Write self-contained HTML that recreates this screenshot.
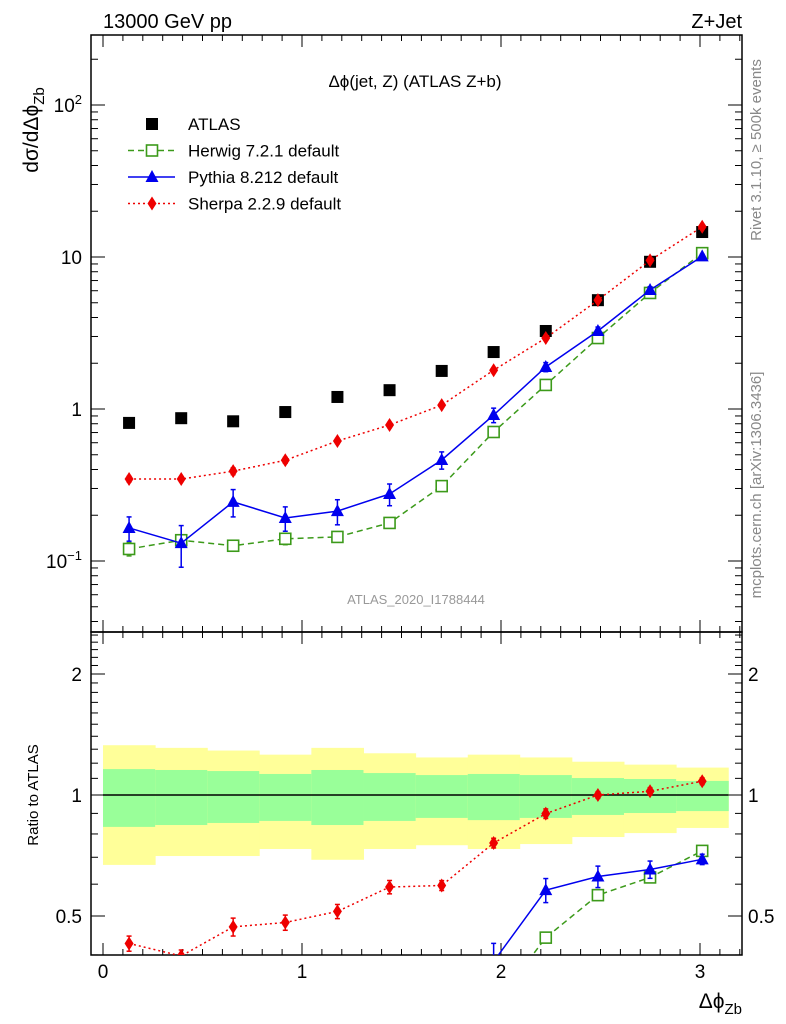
<!DOCTYPE html>
<html><head><meta charset="utf-8">
<style>
html,body{margin:0;background:#fff;overflow:hidden;width:786px;height:1024px;}
svg{display:block;font-family:"Liberation Sans",sans-serif;}
</style></head>
<body>
<svg id="chart" width="786" height="1024" viewBox="0 0 786 1024">
<defs>
<clipPath id="cm"><rect x="91" y="35" width="651" height="597"/></clipPath>
<clipPath id="cr"><rect x="91" y="632" width="651" height="323"/></clipPath>
</defs>
<g id="bands" clip-path="url(#cr)"></g>
<g id="grid"></g>
<text x="103" y="28" font-size="20">13000 GeV pp</text>
<text x="742" y="28" font-size="20" text-anchor="end">Z+Jet</text>
<text x="415" y="87" font-size="17" text-anchor="middle">Δϕ(jet, Z) (ATLAS Z+b)</text>
<text x="416" y="604" font-size="13" fill="#999" text-anchor="middle">ATLAS_2020_I1788444</text>
<text transform="translate(38,130) rotate(-90)" font-size="21" text-anchor="middle">dσ/dΔϕ<tspan font-size="15" dy="6">Zb</tspan></text>
<text transform="translate(38,795) rotate(-90)" font-size="15" text-anchor="middle">Ratio to ATLAS</text>
<text x="742" y="1008" font-size="21" text-anchor="end">Δϕ<tspan font-size="15" dy="6">Zb</tspan></text>
<text transform="translate(757,150) rotate(-90)" font-size="15" fill="#888" text-anchor="middle" dominant-baseline="middle">Rivet 3.1.10, ≥ 500k events</text>
<text transform="translate(757,485) rotate(-90)" font-size="15" fill="#888" text-anchor="middle" dominant-baseline="middle">mcplots.cern.ch [arXiv:1306.3436]</text>
<g id="series"></g>
<g id="legend"></g>
</svg>
<script>
const xCenters=[0.131,0.393,0.654,0.916,1.178,1.440,1.702,1.963,2.225,2.487,2.749,3.011];
const binLo=[0,0.262,0.524,0.785,1.047,1.309,1.571,1.833,2.094,2.356,2.618,2.880];
const binHi=[0.262,0.524,0.785,1.047,1.309,1.571,1.833,2.094,2.356,2.618,2.880,3.142];
const atlas=[0.81,0.87,0.83,0.955,1.2,1.33,1.78,2.37,3.26,5.2,9.3,14.6];
const herwig=[0.12,0.137,0.126,0.14,0.144,0.178,0.311,0.706,1.44,2.93,5.8,10.6];
const herwigErr=[0.012,0.01,0.01,0.012,0.01,0.01,0.012,0.02,0.04,0.06,0.1,0.15];
const pythia=[0.165,0.131,0.245,0.192,0.213,0.276,0.462,0.913,1.89,3.26,6.07,10.1];
const pythiaErr=[0.03,0.04,0.05,0.035,0.04,0.045,0.06,0.1,0.13,0.2,0.3,0.3];
const sherpa=[0.346,0.346,0.39,0.46,0.616,0.785,1.06,1.8,2.93,5.2,9.5,15.8];
const sherpaErr=[0.015,0.012,0.02,0.02,0.025,0.03,0.03,0.05,0.08,0.1,0.2,0.3];
const yellowUp=[1.33,1.31,1.29,1.26,1.31,1.27,1.24,1.26,1.24,1.21,1.19,1.17];
const yellowLo=[0.67,0.705,0.705,0.734,0.69,0.734,0.75,0.734,0.755,0.786,0.804,0.828];
const greenUp=[1.16,1.154,1.147,1.128,1.154,1.134,1.121,1.128,1.121,1.102,1.096,1.084];
const greenLo=[0.833,0.842,0.852,0.862,0.842,0.862,0.877,0.866,0.877,0.892,0.902,0.912];
const xTicks=[0,1,2,3];
const mainTicks=[[100,"10<tspan font-size='13' dy='-8'>2</tspan>"],[10,"10"],[1,"1"],[0.1,"10<tspan font-size='13' dy='-8'>−1</tspan>"]];
const ratioTicks=[2,1,0.5];

const NS="http://www.w3.org/2000/svg";
const L=91,R=742,T=35,MB=632,RB=955;
const X=v=>103+v*199;
const Ym=v=>409-152*Math.log10(v);
const Yr=v=>795-121*Math.log2(v);
function mk(tag,attrs,parent){const e=document.createElementNS(NS,tag);for(const k in attrs)e.setAttribute(k,attrs[k]);parent.appendChild(e);return e;}
const bands=document.getElementById('bands'),grid=document.getElementById('grid'),ser=document.getElementById('series'),leg=document.getElementById('legend');

for(let i=0;i<xCenters.length;i++){
  let r=mk('rect',{x:X(binLo[i]),y:Yr(yellowUp[i]),width:X(binHi[i])-X(binLo[i])+0.5,height:Yr(yellowLo[i])-Yr(yellowUp[i]),fill:'#ffff99'},bands);
  
  
  let g=mk('rect',{x:X(binLo[i]),y:Yr(greenUp[i]),width:X(binHi[i])-X(binLo[i])+0.5,height:Yr(greenLo[i])-Yr(greenUp[i]),fill:'#99ff99'},bands);
  
  
}
let one=mk('line',{x1:X(0),x2:X(3.142),y1:Yr(1),y2:Yr(1),stroke:'#000','stroke-width':1.5},bands);



for(const [t,b,n] of [[T,MB,'main-frame'],[MB,RB,'ratio-frame']]){
  let f=mk('rect',{x:L,y:t,width:R-L,height:b-t,fill:'none',stroke:'#000','stroke-width':1.5},grid);
  
  
}
for(let k=0;k<=32;k++){const v=k/10;const x=X(v);if(x>R)continue;const maj=k%10==0;const len=maj?12:6;
  for(const [t,b] of [[T,MB],[MB,RB]]){
    mk('line',{x1:x,x2:x,y1:b,y2:b-len,stroke:'#000'},grid);
    mk('line',{x1:x,x2:x,y1:t,y2:t+len,stroke:'#000'},grid);
  }}
xTicks.forEach(v=>{const t=mk('text',{x:X(v),y:978,'font-size':19,'text-anchor':'middle'},grid);t.textContent=v;
  
  });
for(let d=-2;d<=2;d++)for(let m=1;m<=9;m++){const v=m*Math.pow(10,d);const y=Ym(v);if(y<T||y>MB)continue;const len=m==1?14:7;
  mk('line',{x1:L,x2:L+len,y1:y,y2:y,stroke:'#000'},grid);mk('line',{x1:R,x2:R-len,y1:y,y2:y,stroke:'#000'},grid);}
mainTicks.forEach(([v,s])=>{const t=mk('text',{x:82,y:Ym(v)+7,'font-size':19,'text-anchor':'end'},grid);t.innerHTML=s;
  
  });
const rminor=[0.4,0.5,0.6,0.7,0.8,0.9,1,1.1,1.2,1.3,1.4,1.5,1.6,1.7,1.8,1.9,2,2.1,2.2,2.3,2.4,2.5];
rminor.forEach(v=>{const y=Yr(v);if(y<MB||y>RB)return;const maj=ratioTicks.includes(v);const len=maj?14:7;
  mk('line',{x1:L,x2:L+len,y1:y,y2:y,stroke:'#000'},grid);mk('line',{x1:R,x2:R-len,y1:y,y2:y,stroke:'#000'},grid);});
ratioTicks.forEach(v=>{for(const [x,a] of [[82,'end'],[748,'start']]){const t=mk('text',{x:x,y:Yr(v)+7,'font-size':19,'text-anchor':a},grid);t.textContent=v;
  
  }});

function marker(kind,x,y,parent,name){
  let e;
  if(kind=='sq')e=mk('rect',{x:x-6,y:y-6,width:12,height:12,fill:'#000'},parent);
  if(kind=='osq')e=mk('rect',{x:x-5.5,y:y-5.5,width:11,height:11,fill:'#fff',stroke:'#3c9a1a','stroke-width':1.6},parent);
  if(kind=='tri')e=mk('polygon',{points:`${x},${y-7} ${x-6.5},${y+5} ${x+6.5},${y+5}`,fill:'#0000ee'},parent);
  if(kind=='dia')e=mk('polygon',{points:`${x},${y-7} ${x-4.5},${y} ${x},${y+7} ${x+4.5},${y}`,fill:'#ee0000'},parent);
  
  
  return e;
}
const mc=[
 {vals:herwig,err:herwigErr,kind:'osq',col:'#3c9a1a',dash:'6,4',name:'herwig'},
 {vals:pythia,err:pythiaErr,kind:'tri',col:'#0000ee',dash:'',name:'pythia'},
 {vals:sherpa,err:sherpaErr,kind:'dia',col:'#ee0000',dash:'2,3',name:'sherpa'}];
const gm=mk('g',{'clip-path':'url(#cm)'},ser), gr=mk('g',{'clip-path':'url(#cr)'},ser);
atlas.forEach((v,i)=>marker('sq',X(xCenters[i]),Ym(v),gm,'atlas-point'));
mc.forEach(s=>{
  for(const [g,Y,vals,errs] of [[gm,Ym,s.vals,s.err],[gr,Yr,s.vals.map((v,i)=>v/atlas[i]),s.err.map((e,i)=>e/atlas[i])]]){
    const pts=vals.map((v,i)=>`${X(xCenters[i])},${Y(v)}`).join(' ');
    const pl=mk('polyline',{points:pts,fill:'none',stroke:s.col,'stroke-width':1.5,'stroke-dasharray':s.dash},g);
    
    
    vals.forEach((v,i)=>{const x=X(xCenters[i]);const y1=Y(v+errs[i]),y2=Y(Math.max(v-errs[i],1e-6));
      mk('line',{x1:x,x2:x,y1:y1,y2:y2,stroke:s.col,'stroke-width':1.5},g);
      mk('line',{x1:x-2.5,x2:x+2.5,y1:y1,y2:y1,stroke:s.col,'stroke-width':1.5},g);
      mk('line',{x1:x-2.5,x2:x+2.5,y1:y2,y2:y2,stroke:s.col,'stroke-width':1.5},g);
      marker(s.kind,x,Y(v),g,s.name+'-point');});
  }
});
const items=[['ATLAS','sq',null,''],['Herwig 7.2.1 default','osq','#3c9a1a','6,4'],['Pythia 8.212 default','tri','#0000ee',''],['Sherpa 2.2.9 default','dia','#ee0000','2,3']];
items.forEach((it,k)=>{const y=124+26.5*k;
  if(it[2]){const l=mk('line',{x1:128,x2:175,y1:y,y2:y,stroke:it[2],'stroke-width':1.5,'stroke-dasharray':it[3]},leg);
    
    }
  marker(it[1],152,y,leg,'legend-marker');
  const t=mk('text',{x:188,y:y+6,'font-size':17},leg);t.textContent=it[0];
  
  
});
</script>
</body></html>
